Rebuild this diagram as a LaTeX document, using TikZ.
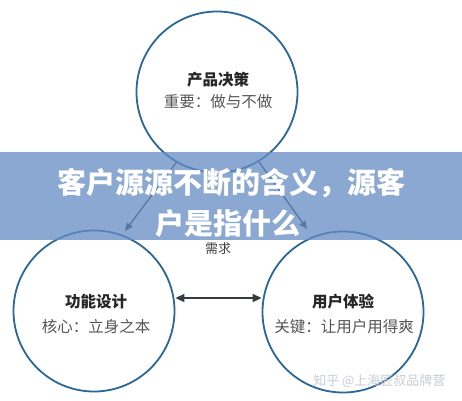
\documentclass[tikz,border=0pt]{standalone}
\usepackage{fontspec}
\setmainfont{Noto Sans CJK SC}
\newfontfamily\cjk{Noto Sans CJK SC}
\usetikzlibrary{arrows.meta}
\definecolor{ringblue}{RGB}{42,104,152}
\definecolor{bannerblue}{RGB}{100,140,196}
\definecolor{darkline}{RGB}{55,58,64}
\definecolor{subgray}{RGB}{85,85,85}
\definecolor{wmgray}{RGB}{200,204,210}
\tikzset{
  ring/.style={circle, draw=ringblue, line width=1.8pt, minimum size=161pt, inner sep=0pt},
  titletext/.style={font=\cjk\fontsize{15.5}{18}\selectfont\bfseries, text=black!85},
  subtext/.style={font=\cjk\fontsize{15.5}{18}\selectfont, text=subgray},
  flow/.style={draw=darkline, line width=1.3pt, -{Triangle[length=8pt,width=7pt]}},
  both/.style={draw=darkline, line width=1.6pt, {Triangle[length=9pt,width=8pt]}-{Triangle[length=9pt,width=8pt]}},
  bannertext/.style={font=\cjk\fontsize{29}{34}\selectfont\bfseries, text=white},
}
\begin{document}
\begin{tikzpicture}[x=1pt,y=-1pt]
\useasboundingbox (0,0) rectangle (462,400);
\fill[white] (0,0) rectangle (462,400);
% circles
\node[ring] (top) at (217,92) {};
\node[ring] (left) at (94,311) {};
\node[ring] (right) at (343,312) {};
% texts
\node[titletext] (t1) at (218,80) {产品决策};
\node[subtext] (t2) at (218,102) {重要：做与不做};
\node[titletext] (l1) at (96,302) {功能设计};
\node[subtext] (l2) at (96,327) {核心：立身之本};
\node[titletext] (r1) at (343,302) {用户体验};
\node[subtext] (r2) at (344,327) {关键：让用户用得爽};
% connectors
\coordinate (ltip) at (125,231);
\coordinate (rtip) at (307,229);
\draw[flow] (top.-120) -- (ltip);
\draw[flow] (top.-59) -- (rtip);
\draw[both] (left.east |- 0,298) -- (right.west |- 0,298);
\node[font=\cjk\fontsize{13}{15}\selectfont, text=black!75] (need) at (218,249) {需求};
% watermark
\node[font=\cjk\fontsize{13}{15}\selectfont, text=wmgray, anchor=east] (wm) at (449,381) {知乎 @上海匠叔品牌营};
% banner
\fill[bannerblue, fill opacity=0.75] (0,152) rectangle (462,240);
\node[bannertext] (b1) at (231,183) {客户源源不断的含义，源客};
\node[bannertext] (b2) at (228,224) {户是指什么};
\end{tikzpicture}
\end{document}
